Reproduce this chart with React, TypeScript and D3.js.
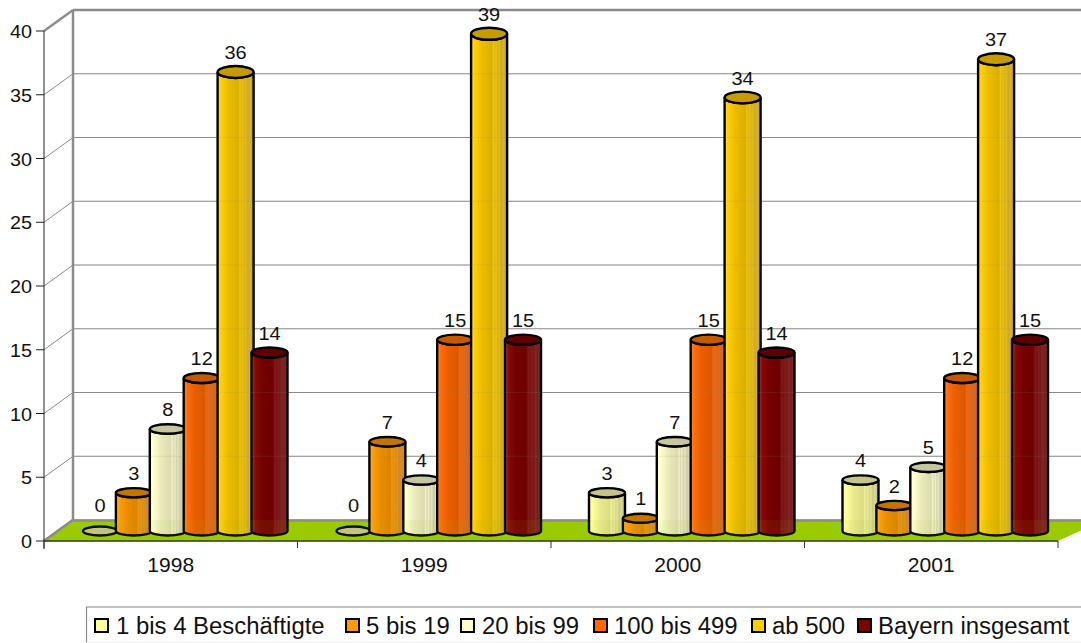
import React from "react";
import * as d3 from "d3";

const years = ["1998", "1999", "2000", "2001"];
const seriesNames = ["1 bis 4 Beschäftigte", "5 bis 19", "20 bis 99", "100 bis 499", "ab 500", "Bayern insgesamt"];
const seriesColors = ["#ffff99", "#ff9900", "#ffffcc", "#ff6600", "#ffcc00", "#800000"];
const seriesTops = ["#c4c48a", "#c47500", "#c6c6a2", "#c45a00", "#c49c00", "#5f0000"];
const values = [
  [0, 3, 8, 12, 36, 14],
  [0, 7, 4, 15, 39, 15],
  [3, 1, 7, 15, 34, 14],
  [4, 2, 5, 12, 37, 15],
];
const yTicks = [0, 5, 10, 15, 20, 25, 30, 35, 40];
const legendX = [95, 346, 461, 594, 752, 858];
const legendTextX = [116, 366, 482, 614, 772, 878];
const FONT = "'Liberation Sans', Arial, sans-serif";

const W = 1081, H = 643;
const depthX = 29, depthY = 21;
const y = d3.scaleLinear().domain([0, 40]).range([541, 31]);
const x = d3.scaleBand().domain(years).range([44, 1058]);
const baseLift = 10;
const barStep = 33.9;
const barW = 36;
const GRID = "#8c8c8c";

// Cylinder highlights run from a bright left rim to a dull, streaky right side.
function shade(c: string, k: number) {
  return k >= 0 ? d3.interpolateRgb(c, "#ffffff")(k) : d3.interpolateRgb(c, "#000000")(-k);
}
function dull(c: string, k: number) {
  return d3.interpolateRgb(c, "#6e6e6e")(k);
}
const topRy = (v: number) => 4.5 + v * 0.04;

// Text drawn slightly wider than the font's natural proportions.
function Label({ px, py, size, wide = 1.1, anchor = "middle", children }: any) {
  return (
    <text
      transform={`translate(${px},${py}) scale(${wide},1)`}
      textAnchor={anchor}
      fontFamily={FONT}
      fontSize={size}
      fill="#111"
    >
      {children}
    </text>
  );
}

export default function App() {
  const floor = `44,541 73,520 ${W + 23},520 1058,541`;
  return (
    <svg width={W} height={H} style={{ position: "absolute", left: 0, top: 0, background: "#fff" }}>
      <defs>
        {seriesColors.map((c, i) => (
          <linearGradient key={i} id={`cyl${i}`} x1="0" x2="1" y1="0" y2="0">
            <stop offset="0" stopColor={shade(c, 0.25)} />
            <stop offset="0.1" stopColor={shade(c, 0.04)} />
            <stop offset="0.3" stopColor={shade(c, -0.08)} />
            <stop offset="0.58" stopColor={shade(c, -0.14)} />
            <stop offset="0.62" stopColor={dull(c, 0.08)} />
            <stop offset="0.66" stopColor={dull(c, 0.26)} />
            <stop offset="0.7" stopColor={dull(c, 0.12)} />
            <stop offset="0.74" stopColor={dull(c, 0.3)} />
            <stop offset="0.78" stopColor={dull(c, 0.18)} />
            <stop offset="0.84" stopColor={dull(c, 0.36)} />
            <stop offset="0.9" stopColor={dull(c, 0.26)} />
            <stop offset="1" stopColor={dull(c, 0.46)} />
          </linearGradient>
        ))}
      </defs>

      {/* back wall and side wall */}
      {yTicks.map((t) => (
        <g key={t}>
          <line x1={44} y1={y(t)} x2={44 + depthX} y2={y(t) - depthY} stroke={GRID} strokeWidth={t === 40 || t === 0 ? 2.5 : 1} />
          <line x1={44 + depthX} y1={y(t) - depthY} x2={W} y2={y(t) - depthY} stroke={GRID} strokeWidth={t === 40 ? 2.5 : 1} />
        </g>
      ))}
      <line x1={73} x2={73} y1={y(40) - depthY} y2={y(0) - depthY} stroke={GRID} strokeWidth={2.5} />

      {/* floor */}
      <polygon points={floor} fill="#99cc00" />
      <line x1={73} x2={W} y1={520.5} y2={520.5} stroke={GRID} strokeWidth={2.5} />
      <line x1={44} y1={541} x2={73} y2={520} stroke={GRID} strokeWidth={2.5} />
      <line x1={44} x2={1058} y1={541} y2={541} stroke="#2b3300" strokeWidth={1.5} />

      {/* axes */}
      <line x1={44} x2={44} y1={y(40)} y2={549} stroke="#222" strokeWidth={1} />
      {yTicks.map((t) => (
        <g key={t}>
          <line x1={36} x2={44} y1={y(t)} y2={y(t)} stroke="#222" strokeWidth={1} />
          <Label px={32} py={y(t) + 7} size={18} wide={1.1} anchor="end">{t}</Label>
        </g>
      ))}
      {[...years.map((yr) => x(yr)!), 1058].map((px) => (
        <line key={px} x1={px} x2={px} y1={541} y2={548} stroke="#333" strokeWidth={1} />
      ))}
      {years.map((yr) => (
        <Label key={yr} px={x(yr)! + x.bandwidth() / 2} py={572} size={19.5} wide={1.08}>{yr}</Label>
      ))}

      {/* cylinders, drawn left to right so each overlaps the previous edge */}
      {values.map((row, gi) =>
        row.map((v, si) => {
          const left = x(years[gi])! + 38 + si * barStep;
          const bottom = y(0) - baseLift;
          const top = y(v) - baseLift;
          const rx = barW / 2;
          const ry = topRy(v);
          const body = `M${left},${top} L${left},${bottom} A${rx},4.5 0 0 0 ${left + barW},${bottom} L${left + barW},${top} A${rx},${ry} 0 0 1 ${left},${top} Z`;
          return (
            <g key={`${gi}-${si}`}>
              {v > 0 && <path d={body} fill={`url(#cyl${si})`} stroke="#000" strokeWidth={2.4} />}
              <ellipse cx={left + rx} cy={top} rx={v > 0 ? rx : rx - 1} ry={ry} fill={seriesTops[si]} stroke="#000" strokeWidth={2.4} />
            </g>
          );
        })
      )}

      {/* the floor and the grid lines show faintly through the cylinders */}
      <polygon points={floor} fill="#99cc00" fillOpacity={0.07} />
      {yTicks.slice(1).map((t) => (
        <line key={t} x1={73} x2={W} y1={y(t) - depthY} y2={y(t) - depthY} stroke={GRID} strokeOpacity={0.12} />
      ))}

      {/* value labels */}
      {values.map((row, gi) =>
        row.map((v, si) => (
          <Label
            key={`${gi}-${si}`}
            px={x(years[gi])! + 38 + si * barStep + barW / 2}
            py={y(v) - baseLift - (v === 0 ? 19 : 13)}
            size={18.5}
            wide={1.08}
          >
            {v}
          </Label>
        ))
      )}

      {/* legend */}
      <rect x={86.5} y={607} width={1010} height={35} fill="#fff" stroke="#f0f0f0" strokeWidth={1} />
      <path d="M86.5,642 V607 H1081" fill="none" stroke="#8c8c8c" strokeWidth={1.2} />
      {seriesNames.map((n, i) => (
        <g key={n}>
          <rect x={legendX[i]} y={619} width={13} height={13} fill={seriesColors[i]} stroke="#000" strokeWidth={2} />
          <Label px={legendTextX[i]} py={634} size={23} wide={1.04} anchor="start">{n}</Label>
        </g>
      ))}
    </svg>
  );
}
